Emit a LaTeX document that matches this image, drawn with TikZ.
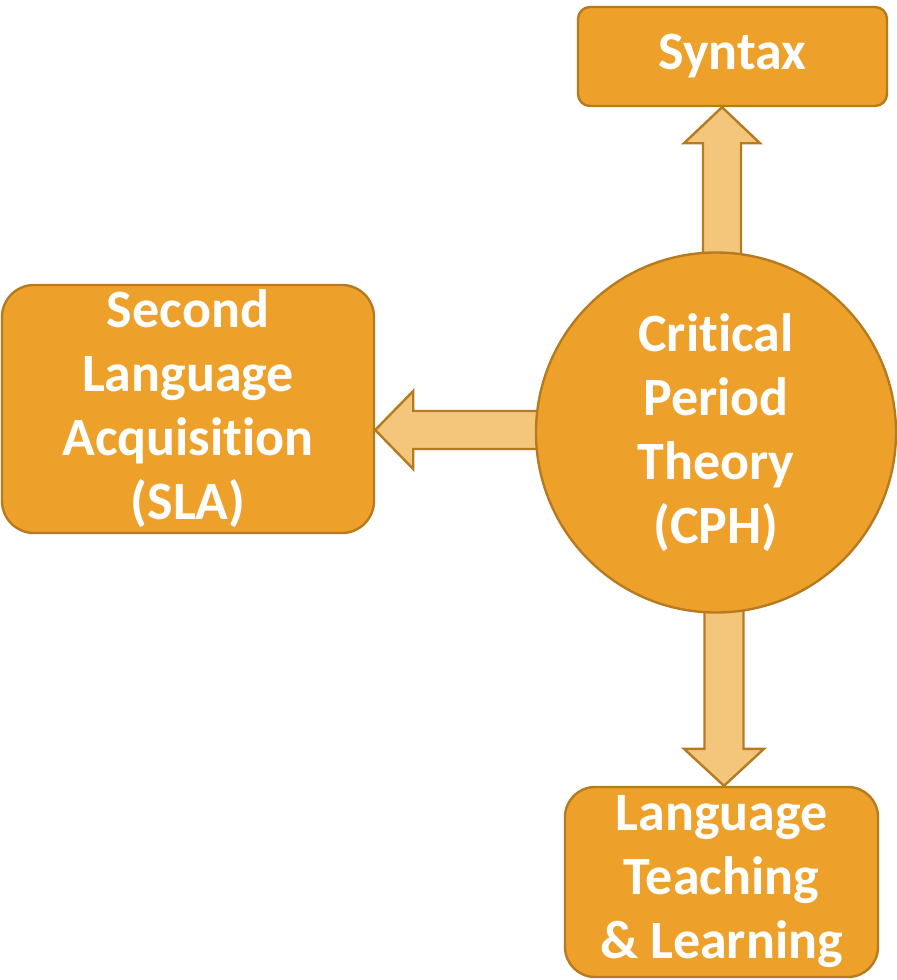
\documentclass[tikz,border=0pt]{standalone}
\usepackage{fontspec}
\setmainfont{Carlito}[Ligatures=NoCommon]
\usepackage{tikz}
\usetikzlibrary{calc,backgrounds}
\usepackage{xcolor}
\definecolor{boxorange}{RGB}{238,161,42}
\definecolor{boxedge}{RGB}{183,123,31}
\definecolor{arrowfill}{RGB}{244,198,124}
\tikzstyle{orangebox} = [draw=boxedge, fill=boxorange, line width=1.2pt,
    rectangle, inner sep=0pt, align=center, text=white,
    font=\bfseries\fontsize{27}{32}\selectfont]
\tikzstyle{bigcircle} = [orangebox, circle, minimum size=180pt]
\tikzstyle{blockarrow} = [draw=boxedge, fill=arrowfill, line width=1.2pt, line join=miter]

\begin{document}
\begin{tikzpicture}[x=0.5pt, y=-0.5pt]
\useasboundingbox (0,0) rectangle (896,980);
\node [orangebox, rounded corners=6pt, minimum width=154.5pt, minimum height=49.5pt]
    (syn) at (732.5,56.5) {Syntax};
\node [orangebox, rounded corners=16pt, minimum width=186pt, minimum height=124pt]
    (sla) at (188,409) {Second\\Language\\Acquisition\\(SLA)};
\node [bigcircle] (cph) at (716,432.5) {Critical\\Period\\Theory\\(CPH)};
\node [orangebox, rounded corners=15pt, minimum width=156.5pt, minimum height=95pt]
    (ltl) at (721.5,882) {Language\\Teaching\\\& Learning};
\coordinate (upx) at (722,0);
\coordinate (lefty) at (0,430);
\coordinate (dnx) at (724,0);
\begin{scope}[on background layer]
% up to syntax
\draw[blockarrow] (syn.south -| upx) -- ++(38,36) -- ++(-19,0)
    -- ($(cph.center -| upx)+(19,0)$) -- ++(-38,0)
    -- ($(syn.south -| upx)+(-19,36)$) -- ++(-19,0) -- cycle;
% left to SLA
\draw[blockarrow] (sla.east |- lefty) -- ++(38,-39) -- ++(0,20)
    -- ($(cph.center |- lefty)+(0,-19)$) -- ++(0,38)
    -- ($(sla.east |- lefty)+(38,19)$) -- ++(0,20) -- cycle;
% down to teaching
\draw[blockarrow] (ltl.north -| dnx) -- ++(40,-37) -- ++(-20.5,0)
    -- ($(cph.center -| dnx)+(19.5,0)$) -- ++(-39,0)
    -- ($(ltl.north -| dnx)+(-19.5,-37)$) -- ++(-20.5,0) -- cycle;
\end{scope}
\end{tikzpicture}
\end{document}
